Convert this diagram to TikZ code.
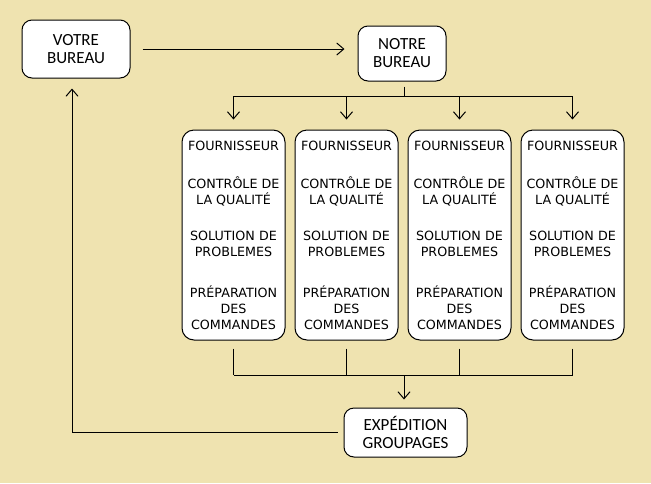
\documentclass[tikz,border=0pt]{standalone}
\usepackage{fontspec}
\newfontfamily\bigfont{Carlito}
\newfontfamily\smallfont{DejaVu Sans}
\usetikzlibrary{arrows.meta,positioning}
\definecolor{beige}{RGB}{239,227,176}
\tikzset{main node/.style={rectangle,rounded corners=10pt,fill=white,draw,line width=1pt,align=center,inner sep=0pt,font=\bigfont\fontsize{17}{18}\selectfont},
         column node/.style={rectangle,rounded corners=12pt,fill=white,draw,line width=1pt,align=center,inner sep=0pt,minimum width=103pt,minimum height=210pt,font=\smallfont\fontsize{12.7}{16}\selectfont},
         link/.style={line width=1pt}
}
\newcommand{\columntext}{FOURNISSEUR\\[22pt]CONTRÔLE DE\\LA QUALITÉ\\[20pt]SOLUTION DE\\PROBLEMES\\[25pt]PRÉPARATION\\DES\\COMMANDES}

\begin{document}
\begin{tikzpicture}[x=1pt,y=-1pt,
>={Straight Barb[length=7pt,width=12pt]}]

\fill[beige] (0,0) rectangle (651,483);
\useasboundingbox (0,0) rectangle (651,483);

\node [main node,minimum width=108pt,minimum height=58pt] (vb) at (76,49) {VOTRE\\BUREAU};
\node [main node,minimum width=88pt,minimum height=55pt] (nb) at (402,53.5) {NOTRE\\BUREAU};
\node [main node,minimum width=123pt,minimum height=49pt] (exp) at (405.5,432.5) {EXPÉDITION\\GROUPAGES};

\node [column node] (c1) at (233.5,235) {\columntext};
\node [column node,right = 9pt of c1] (c2) {\columntext};
\node [column node,right = 9pt of c2] (c3) {\columntext};
\node [column node,right = 9pt of c3] (c4) {\columntext};

\coordinate (top bus) at (404,96);
\coordinate (bottom bus) at (404,375);
\coordinate (return) at (72,432.5);

\draw[link,->,shorten <=12pt,shorten >=13pt] (vb.east) -- (nb.west |- vb);
\draw[link,shorten <=5pt] (nb.south -| top bus) -- (top bus);
\draw[link] (c1 |- top bus) -- (c4 |- top bus);
\foreach \c in {c1,c2,c3,c4}{
  \draw[link,->,shorten >=10pt] (\c |- top bus) -- (\c.north);
  \draw[link,shorten <=8pt] (\c.south) -- (\c |- bottom bus);
}
\draw[link] (c1 |- bottom bus) -- (c4 |- bottom bus);
\draw[link,->,shorten >=8pt] (bottom bus) -- (bottom bus |- exp.north);
\draw[link,->,shorten <=6pt,shorten >=10pt] (exp.west) -- (return) -- (return |- vb.south);
\end{tikzpicture}
\end{document}
